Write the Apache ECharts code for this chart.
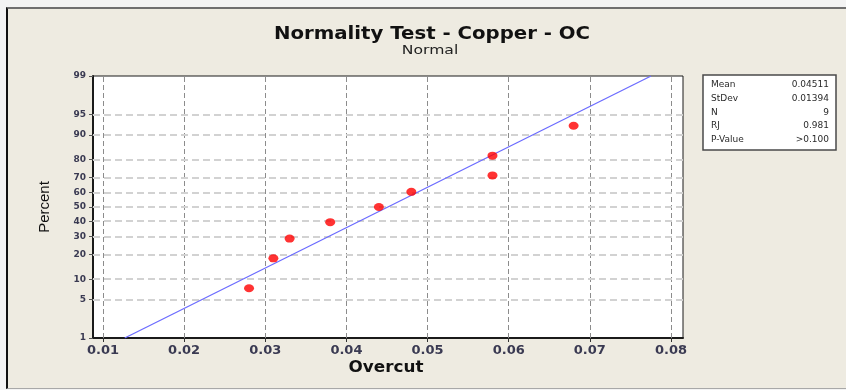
<!DOCTYPE html>
<html>
<head>
<meta charset="utf-8">
<script src="https://cdn.jsdelivr.net/npm/echarts@6/dist/echarts.min.js"></script>
<style>
  html, body { margin: 0; padding: 0; background: #f3f3f3; }
  #wrap { position: relative; width: 846px; height: 390px; overflow: hidden; background: #f3f3f3; }
  #panel { position: absolute; left: 6px; top: 7px; width: 845px; height: 379px;
           background: #eeebe1; border-left: 2px solid #111; border-top: 2px solid #6f6f6f;
           border-bottom: 1px solid #a8a8a8; }
  #chart { position: absolute; left: 0; top: 0; width: 846px; height: 390px; }
</style>
</head>
<body>
<div id="wrap">
  <div id="panel"></div>
  <div id="chart"></div>
</div>
<script>
// Overcut measurements (sorted) and their normal plotting positions (percent)
const overcut = [0.028, 0.031, 0.033, 0.038, 0.044, 0.048, 0.058, 0.058, 0.068];
const percent = [7.45, 18.09, 28.72, 39.36, 50, 60.64, 71.28, 81.91, 92.55];

// Probability-axis tick labels and grid positions (percent)
const percentTicks = [1, 5, 10, 20, 30, 40, 50, 60, 70, 80, 90, 95, 99];
const percentGrid = [5, 10, 20, 30, 40, 50, 60, 70, 80, 90, 95];

// Overcut axis tick labels and grid positions
const xTicks = [0.01, 0.02, 0.03, 0.04, 0.05, 0.06, 0.07, 0.08];
const xGrid = [0.01, 0.015, 0.02, 0.025, 0.03, 0.035, 0.04, 0.045, 0.05, 0.055, 0.06, 0.065, 0.07, 0.075, 0.08];

// Summary statistics
const statNames = ['Mean', 'StDev', 'N', 'RJ', 'P-Value'];
const statValues = ['0.04511', '0.01394', '9', '0.981', '>0.100'];
const fitMean = 0.04511;
const fitStDev = 0.01394;
const fitPercents = [1, 99];

// Inverse standard normal CDF (Acklam's rational approximation)
function normInv(p) {
  const a = [-3.969683028665376e+01, 2.209460984245205e+02, -2.759285104469687e+02, 1.383577518672690e+02, -3.066479806614716e+01, 2.506628277459239e+00];
  const b = [-5.447609879822406e+01, 1.615858368580409e+02, -1.556989798598866e+02, 6.680131188771972e+01, -1.328068155288572e+01];
  const c = [-7.784894002430293e-03, -3.223964580411365e-01, -2.400758277161838e+00, -2.549732539343734e+00, 4.374664141464968e+00, 2.938163982698783e+00];
  const d = [7.784695709041462e-03, 3.224671290700398e-01, 2.445134137142996e+00, 3.754408661907416e+00];
  const pl = 0.02425, ph = 1 - pl;
  let q, r;
  if (p < pl) {
    q = Math.sqrt(-2 * Math.log(p));
    return (((((c[0]*q+c[1])*q+c[2])*q+c[3])*q+c[4])*q+c[5]) / ((((d[0]*q+d[1])*q+d[2])*q+d[3])*q+1);
  }
  if (p <= ph) {
    q = p - 0.5; r = q * q;
    return (((((a[0]*r+a[1])*r+a[2])*r+a[3])*r+a[4])*r+a[5])*q / (((((b[0]*r+b[1])*r+b[2])*r+b[3])*r+b[4])*r+1);
  }
  q = Math.sqrt(-2 * Math.log(1 - p));
  return -(((((c[0]*q+c[1])*q+c[2])*q+c[3])*q+c[4])*q+c[5]) / ((((d[0]*q+d[1])*q+d[2])*q+d[3])*q+1);
}
const pz = v => normInv(v / 100);

const zTicks = percentTicks.map(pz);
const zMin = pz(1), zMax = pz(99);

const points = overcut.map((x, i) => [x, pz(percent[i])]);
const fitLine = fitPercents.map(p => [fitMean + pz(p) * fitStDev, pz(p)]);

const vGrid = xGrid.map(v => ({ xAxis: v, lineStyle: { color: '#8c8c8c', width: 1, type: [5, 3] } }));
const hGrid = percentGrid.map(p => ({ yAxis: pz(p), lineStyle: { color: '#d2d2d2', width: 2, type: [7, 4] } }));
const topEdge = [{ yAxis: zMax, lineStyle: { color: '#9a9a9a', width: 2, type: 'solid' } }];

const labelColor = '#3a3a52';
const font = 'DejaVu Sans, Verdana, sans-serif';

const chart = echarts.init(document.getElementById('chart'), null, { renderer: 'canvas' });

const statGraphics = [];
statNames.forEach((n, i) => {
  statGraphics.push({ type: 'text', x: 711, y: 85 + i * 13.6,
    style: { text: n, font: '9px ' + font, fill: '#2a2a2a', textAlign: 'left', textVerticalAlign: 'middle' } });
  statGraphics.push({ type: 'text', x: 829, y: 85 + i * 13.6,
    style: { text: statValues[i], font: '9px ' + font, fill: '#2a2a2a', textAlign: 'right', textVerticalAlign: 'middle' } });
});

chart.setOption({
  backgroundColor: 'transparent',
  animation: false,
  grid: { left: 93, right: 163, top: 76, bottom: 52, show: true, backgroundColor: '#ffffff', borderColor: '#1a1a1a', borderWidth: 1 },
  xAxis: {
    type: 'value', min: 0.00877, max: 0.08148,
    axisLine: { show: true, onZero: false, lineStyle: { color: '#1a1a1a', width: 2 } },
    axisTick: { show: true, length: 4, customValues: xTicks, lineStyle: { color: '#333' } },
    axisLabel: { customValues: xTicks, margin: 6, color: labelColor, fontFamily: font, fontWeight: 'bold', fontSize: 13,
      formatter: v => v.toFixed(2) },
    splitLine: { show: false }
  },
  yAxis: {
    type: 'value', min: zMin, max: zMax,
    axisLine: { show: true, onZero: false, lineStyle: { color: '#1a1a1a', width: 2 } },
    axisTick: { show: true, length: 4, customValues: zTicks, lineStyle: { color: '#555' } },
    axisLabel: { customValues: zTicks, margin: 7, color: labelColor, fontFamily: font, fontWeight: 'bold', fontSize: 9,
      formatter: v => {
        let best = 0;
        zTicks.forEach((z, i) => { if (Math.abs(z - v) < Math.abs(zTicks[best] - v)) best = i; });
        return String(percentTicks[best]);
      } },
    splitLine: { show: false }
  },
  graphic: [
    { type: 'text', x: 432, y: 35, scaleX: 1.16, style: { text: 'Normality Test - Copper - OC', font: 'bold 17px ' + font, fill: '#111',
      textAlign: 'center', textVerticalAlign: 'middle' } },
    { type: 'text', x: 430, y: 51, scaleX: 1.2, style: { text: 'Normal', font: '13px ' + font, fill: '#222',
      textAlign: 'center', textVerticalAlign: 'middle' } },
    { type: 'text', x: 45, y: 207, rotation: Math.PI / 2, style: { text: 'Percent', font: '15px Liberation Sans, Arial, sans-serif', fill: '#111',
      textAlign: 'center', textVerticalAlign: 'middle' } },
    { type: 'text', x: 386, y: 368, scaleX: 1.12, style: { text: 'Overcut', font: 'bold 15px ' + font, fill: '#111',
      textAlign: 'center', textVerticalAlign: 'middle' } },
    { type: 'rect', shape: { x: 703, y: 75, width: 133, height: 75 },
      style: { fill: '#ffffff', stroke: '#4a4a4a', lineWidth: 1.5 } },
    ...statGraphics
  ],
  series: [
    {
      type: 'line', data: [], silent: true, z: 1,
      markLine: { silent: true, z: 1, symbol: 'none', label: { show: false }, animation: false,
        data: vGrid.concat(hGrid) }
    },
    {
      type: 'line', data: fitLine, showSymbol: false, symbol: 'none', silent: true,
      lineStyle: { color: '#6c6cff', width: 1.3 }, z: 3
    },
    {
      type: 'scatter', data: points, symbol: 'circle', symbolSize: [10, 8],
      itemStyle: { color: '#ff0000' }, z: 4
    },
    {
      type: 'line', data: [], silent: true, z: 5,
      markLine: { silent: true, z: 5, symbol: 'none', label: { show: false }, animation: false, data: topEdge }
    }
  ]
});
</script>
</body>
</html>
